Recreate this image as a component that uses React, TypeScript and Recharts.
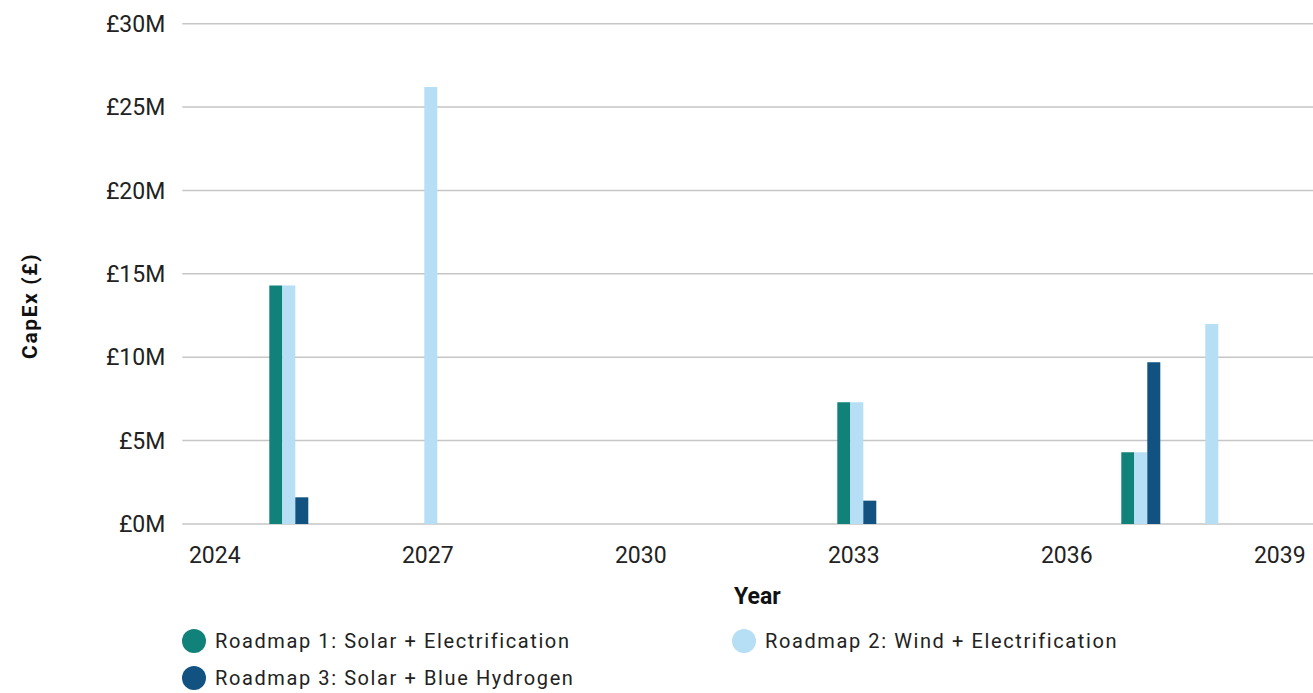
import { BarChart, Bar, XAxis, YAxis, CartesianGrid } from "recharts";

// CapEx per year and roadmap, in £ millions (null = no spend that year)
const years = [
  2024, 2025, 2026, 2027, 2028, 2029, 2030, 2031, 2032, 2033, 2034, 2035, 2036,
  2037, 2038, 2039,
];
const solarElectrification = [
  null, 14.3, null, null, null, null, null, null, null, 7.3, null, null, null,
  4.3, null, null,
];
const windElectrification = [
  null, 14.3, null, 26.2, null, null, null, null, null, 7.3, null, null, null,
  4.3, 12.0, null,
];
const solarBlueHydrogen = [
  null, 1.6, null, null, null, null, null, null, null, 1.4, null, null, null,
  9.7, null, null,
];

const yTicks = [0, 5, 10, 15, 20, 25, 30];
const labelledYears = [2024, 2027, 2030, 2033, 2036, 2039];

const series = [
  { key: "r1", name: "Roadmap 1: Solar + Electrification", color: "#10827a" },
  { key: "r2", name: "Roadmap 2: Wind + Electrification", color: "#b6def5" },
  { key: "r3", name: "Roadmap 3: Solar + Blue Hydrogen", color: "#115280" },
];

const data = years.map((year, i) => ({
  year,
  r1: solarElectrification[i],
  r2: windElectrification[i],
  r3: solarBlueHydrogen[i],
}));

const FONT = "Roboto, 'Noto Sans', sans-serif";
const TEXT = "#222";

function YAxisTitle(props: any) {
  const { viewBox } = props;
  const x = viewBox.x + 37;
  const y = viewBox.y + viewBox.height / 2 + 32;
  return (
    <text
      x={x}
      y={y}
      transform={`rotate(-90 ${x} ${y})`}
      textAnchor="middle"
      fontFamily={FONT}
      fontSize={21}
      fontWeight={700}
      letterSpacing={1.6}
      fill="#111"
    >
      CapEx (£)
    </text>
  );
}

export default function App() {
  return (
    <div
      style={{
        position: "fixed",
        top: 0,
        left: 0,
        width: 1313,
        height: 693,
        overflow: "hidden",
        background: "#fff",
        fontFamily: FONT,
      }}
    >
      <BarChart
        width={1340}
        height={693}
        data={data}
        margin={{ top: 23.7, right: 21.7, left: 0, bottom: 79 }}
        barSize={13}
        barGap={0}
      >
        <CartesianGrid vertical={false} stroke="#c6c6c6" strokeWidth={1.5} />
        <XAxis
          dataKey="year"
          height={90}
          interval={0}
          axisLine={false}
          tickLine={false}
          tickMargin={17}
          tick={{ fontSize: 23, fill: TEXT, fontFamily: FONT, dx: -3 }}
          tickFormatter={(v) => (labelledYears.includes(v) ? String(v) : "")}
          label={{
            value: "Year",
            position: "insideBottom",
            offset: 10,
            dx: 7,
            fontSize: 23,
            fontWeight: 700,
            fill: "#111",
            fontFamily: FONT,
          }}
        />
        <YAxis
          width={182.3}
          domain={[0, 30]}
          ticks={yTicks}
          interval={0}
          axisLine={false}
          tickLine={false}
          tickMargin={11}
          tick={{ fontSize: 23, fill: TEXT, fontFamily: FONT }}
          tickFormatter={(v) => `£${v}M`}
          label={YAxisTitle}
        />
        {series.map((s) => (
          <Bar
            key={s.key}
            dataKey={s.key}
            name={s.name}
            fill={s.color}
            isAnimationActive={false}
          />
        ))}
      </BarChart>

      <div
        style={{
          position: "absolute",
          left: 182,
          top: 629,
          display: "grid",
          gridTemplateColumns: "550px auto",
          rowGap: 13,
          fontSize: 20,
          letterSpacing: 1.6,
          color: TEXT,
        }}
      >
        {series.map((s) => (
          <div
            key={s.key}
            style={{ display: "flex", alignItems: "center", height: 24, lineHeight: 1 }}
          >
            <span
              style={{
                width: 24,
                height: 24,
                borderRadius: "50%",
                background: s.color,
                marginRight: 9,
                flex: "none",
              }}
            />
            {s.name}
          </div>
        ))}
      </div>
    </div>
  );
}
